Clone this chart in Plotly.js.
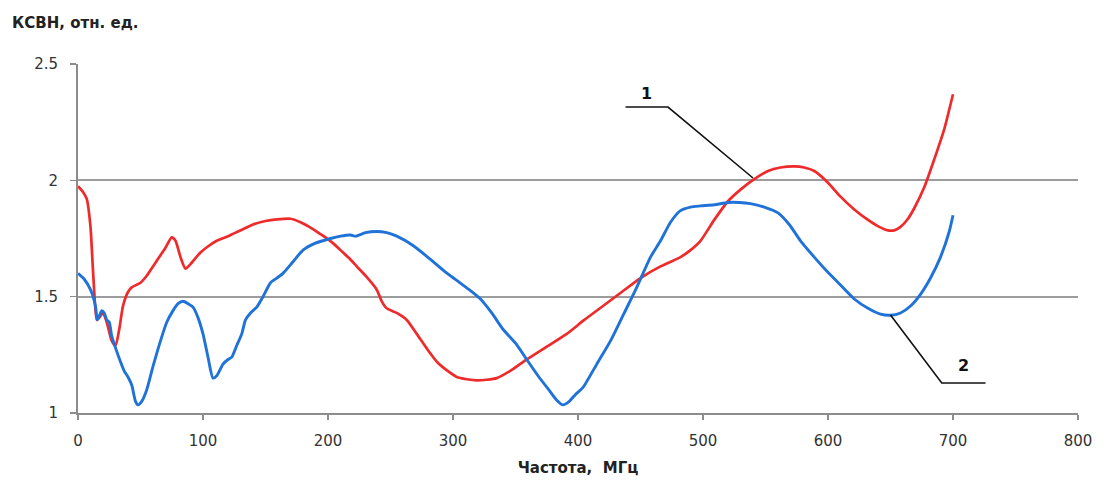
<!DOCTYPE html>
<html><head><meta charset="utf-8">
<script src="https://cdn.plot.ly/plotly-3.0.1.min.js"></script>
<style>html,body{margin:0;padding:0;background:#fff}#chart{width:1109px;height:481px}</style>
</head><body><div id="chart"></div>
<script>
// Curve 1 (red)
const redFreq = [0,4,7,10,11.5,13,15,17,20,23,27,30,33,36,40,43,50,55,60,65,70,75,78,82,86,90,98,105,111,118,124,132,140,150,159,170,178,185,191,198,204,210,217,223,230,239,243,247,255,263,271,280,288,296,303,311,319,327,335,347,359,375,391,405,420,435,450,466,482,490,498,509,520,530,541,552,562,573,581,589,600,610,621,632,641,648,653,658,664,669,677,685,693,700];
const redVswr = [1.975,1.95,1.92,1.80,1.66,1.52,1.40,1.41,1.43,1.39,1.31,1.29,1.36,1.46,1.52,1.54,1.56,1.59,1.63,1.67,1.71,1.755,1.74,1.67,1.62,1.64,1.69,1.72,1.74,1.755,1.77,1.79,1.81,1.825,1.832,1.835,1.82,1.80,1.78,1.755,1.73,1.70,1.665,1.63,1.59,1.53,1.48,1.45,1.43,1.40,1.34,1.27,1.215,1.18,1.155,1.145,1.14,1.143,1.15,1.185,1.23,1.285,1.34,1.40,1.46,1.52,1.58,1.63,1.67,1.70,1.74,1.83,1.91,1.96,2.005,2.04,2.055,2.06,2.055,2.04,1.99,1.93,1.875,1.83,1.80,1.785,1.785,1.80,1.835,1.88,1.97,2.09,2.22,2.37];
// Curve 2 (blue)
const blueFreq = [0,5,10,14,15.5,19,21,23,25,27,30,34,37,40,43,46,48,51,55,60,66,71,76,80,84,88,92,96,100,104,108,111,116,120,123,127,131,134,138,143,148,154,159,164,172,180,190,202,210,218,222,230,239,247,255,268,282,293,303,313,322,331,340,350,359,368,378,383,388,393,398,404,415,426,437,447,458,466,474,482,490,498,509,520,529,538,549,560,569,578,589,599,610,621,632,642,650,658,666,674,682,690,697,700];
const blueVswr = [1.60,1.575,1.53,1.46,1.40,1.44,1.43,1.40,1.39,1.33,1.28,1.22,1.18,1.155,1.12,1.05,1.035,1.05,1.10,1.20,1.31,1.39,1.44,1.47,1.48,1.47,1.455,1.41,1.34,1.24,1.15,1.16,1.21,1.23,1.24,1.29,1.34,1.40,1.43,1.455,1.50,1.56,1.58,1.60,1.65,1.70,1.73,1.75,1.76,1.765,1.76,1.775,1.78,1.775,1.76,1.72,1.66,1.61,1.57,1.53,1.49,1.43,1.36,1.30,1.23,1.16,1.09,1.055,1.035,1.05,1.08,1.11,1.21,1.31,1.43,1.54,1.67,1.74,1.82,1.87,1.885,1.89,1.895,1.905,1.905,1.90,1.885,1.86,1.81,1.74,1.67,1.61,1.55,1.49,1.45,1.425,1.42,1.43,1.46,1.51,1.58,1.67,1.78,1.85];
// Leader lines and labels
const leader1Freq = [438, 472, 540];
const leader1Vswr = [2.315, 2.315, 2.01];
const leader2Freq = [650, 691, 726];
const leader2Vswr = [1.421, 1.129, 1.129];
const labelTexts = ['1', '2'];
const labelFreq = [455, 708];
const labelVswr = [2.375, 1.205];
const xTickVals = [0,100,200,300,400,500,600,700,800];
const yTickVals = [1,1.5,2,2.5];
const yTickText = ['1','1.5','2','2.5'];

const traces = [
  {x: redFreq, y: redVswr, mode:'lines', line:{color:'#ee2a2a', width:2.7, shape:'spline', smoothing:0.6}, hoverinfo:'skip'},
  {x: blueFreq, y: blueVswr, mode:'lines', line:{color:'#1f72d8', width:2.9, shape:'spline', smoothing:0.6}, hoverinfo:'skip'},
  {x: leader1Freq, y: leader1Vswr, mode:'lines', line:{color:'#111', width:1.6}, hoverinfo:'skip'},
  {x: leader2Freq, y: leader2Vswr, mode:'lines', line:{color:'#111', width:1.6}, hoverinfo:'skip'}
];

const annotations = labelTexts.map((t,i)=>({
  x: labelFreq[i], y: labelVswr[i], xref:'x', yref:'y', text:'<b>'+t+'</b>', showarrow:false,
  font:{family:'DejaVu Sans', size:16, color:'#111'}
}));
annotations.push({
  xref:'paper', yref:'paper', x:-0.068, y:1.117, xanchor:'left', yanchor:'middle',
  text:'<b>КСВН, отн. ед.</b>', showarrow:false,
  font:{family:'DejaVu Sans', size:15, color:'#222'}
});

const layout = {
  width:1109, height:481,
  margin:{l:78, r:31, t:64, b:68},
  paper_bgcolor:'#fff', plot_bgcolor:'#fff',
  showlegend:false,
  font:{family:'DejaVu Sans', size:15, color:'#333'},
  xaxis:{
    range:[0,800], tickvals:xTickVals, showgrid:false, zeroline:false,
    showline:true, linecolor:'#8c8c8c', linewidth:2,
    ticks:'outside', ticklen:5, tickcolor:'#8c8c8c', tickwidth:1.3,
    ticklabelstandoff:8,
    tickfont:{family:'DejaVu Sans', size:15, color:'#333'},
    title:{text:'<b>Частота,  МГц</b>', standoff:13, font:{family:'DejaVu Sans', size:15, color:'#222'}}
  },
  yaxis:{
    range:[1,2.5], tickvals:yTickVals, ticktext:yTickText, showgrid:true, gridcolor:'#9c9c9c', gridwidth:2,
    zeroline:false, showline:true, linecolor:'#8c8c8c', linewidth:2,
    ticks:'outside', ticklen:6, tickcolor:'#8c8c8c', tickwidth:1.3,
    ticklabelstandoff:9,
    tickfont:{family:'DejaVu Sans', size:15, color:'#333'}
  },
  annotations: annotations
};

Plotly.newPlot('chart', traces, layout, {displayModeBar:false, staticPlot:true});
</script>
</body></html>
